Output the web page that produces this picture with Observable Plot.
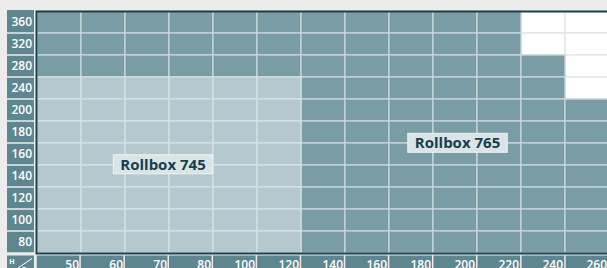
<!DOCTYPE html>
<html><head><meta charset="utf-8">
<script src="https://cdn.jsdelivr.net/npm/d3@7"></script>
<script src="https://cdn.jsdelivr.net/npm/@observablehq/plot@0.6"></script>
<style>
html,body{margin:0;padding:0;background:#ececec;overflow:hidden;}
svg{display:block}
</style></head><body><div id="chart"></div>
<script>
// Widths (x) and heights (y) — categories
const widths = ["50","60","70","80","100","120","140","160","180","200","220","240","260"];
const heights = ["360","320","280","240","200","180","160","140","120","100","80"];
// Rollbox 745 range
const rb745Widths = ["50","60","70","80","100","120"];
const rb745Heights = ["240","200","180","160","140","120","100","80"];
// Rollbox 765: max height for each width
const rb765MaxHeight = [360,360,360,360,360,360,360,360,360,360,360,280,200];
// Labels
const labelNames = ["Rollbox 745","Rollbox 765"];
const labelX = ["80","200"];
const labelY = ["160","180"];

const cells = [];
widths.forEach((w, i) => {
  heights.forEach(h => {
    let type = "none";
    if (rb745Widths.includes(w) && rb745Heights.includes(h)) type = "745";
    else if (+h <= rb765MaxHeight[i]) type = "765";
    cells.push({w, h, type});
  });
});
const labels = labelNames.map((name, i) => ({name, x: labelX[i], y: labelY[i]}));
const labelOffsets = [[-28.5, 10.5], [2, 11]];

const textStyle = {fontFamily: "'Open Sans', sans-serif", fontWeight: 700, fontSize: 15, fill: "#163f4c"};

const plot = Plot.plot({
  width: 607, height: 268,
  marginLeft: 36, marginTop: 11, marginBottom: 15, marginRight: -2,
  style: {background: "#ececec", fontFamily: "'Open Sans', sans-serif", overflow: "hidden"},
  x: {domain: widths, padding: 0},
  y: {domain: heights, padding: 0},
  marks: [
    Plot.cell(cells.filter(d => d.type === "none"), {x: "w", y: "h", fill: "#ffffff", stroke: "#dfe6e9", strokeWidth: 1.3}),
    Plot.cell(cells.filter(d => d.type === "765"), {x: "w", y: "h", fill: "#7a9ca5", stroke: "#c9d8dc", strokeWidth: 1.3}),
    Plot.cell(cells.filter(d => d.type === "745"), {x: "w", y: "h", fill: "#b4c8ce", stroke: "#d5e0e3", strokeWidth: 1.3}),
    Plot.frame({stroke: "#16434f", strokeWidth: 2}),
    Plot.axisX({tickSize: 0, tickPadding: 6.5, textAnchor: "end", dx: 19.5, fill: "white", fontWeight: 600, fontSize: 12}),
    Plot.axisY({tickSize: 0, tickPadding: 4.5, fill: "white", fontWeight: 600, fontSize: 12}),
    ...labels.map((l, i) => Plot.text([l], {x: "x", y: "y", text: "name", dx: labelOffsets[i][0], dy: labelOffsets[i][1], ...textStyle}))
  ]
});
document.getElementById("chart").append(plot);

const xs = plot.scale("x"), ys = plot.scale("y");
const xb = d3.scaleBand(xs.domain, xs.range);
const yb = d3.scaleBand(ys.domain, ys.range);
const svg = d3.select(plot);
const bg = svg.insert("g", "g");
const labelBg = "#5e8691";
// y label backgrounds
heights.forEach(h => {
  bg.append("rect").attr("x", 7).attr("width", 27)
    .attr("y", yb(h) + (h === heights[0] ? -1 : 0.75)).attr("height", yb.bandwidth() - (h === heights[0] ? -0.25 : 1.5))
    .attr("fill", labelBg);
});
// x label backgrounds
const yBottom = ys.range[1];
widths.forEach(w => {
  bg.append("rect").attr("x", xb(w) + 0.75).attr("width", xb.bandwidth() - 1.5)
    .attr("y", yBottom + 2.5).attr("height", 20).attr("fill", labelBg);
});
// corner
bg.append("rect").attr("x", 7).attr("width", 27).attr("y", yBottom + 2.5).attr("height", 20).attr("fill", labelBg);
const corner = svg.append("g");
corner.append("text").attr("x", 12).attr("y", yBottom + 10.5).attr("fill", "white")
  .attr("font-size", 7).attr("font-weight", 700).attr("font-family", "'Open Sans', sans-serif").text("H");
corner.append("line").attr("x1", 18).attr("y1", yBottom + 15).attr("x2", 32).attr("y2", yBottom + 5.5)
  .attr("stroke", "white").attr("stroke-width", 1);
corner.append("text").attr("x", 24).attr("y", yBottom + 19).attr("fill", "white")
  .attr("font-size", 7).attr("font-weight", 700).attr("font-family", "'Open Sans', sans-serif").text("B");

// label boxes
svg.selectAll('g[aria-label="text"] text').each(function() {
  const b = this.getBBox();
  const cy = b.y + b.height / 2 + 0.5;
  const r = document.createElementNS("http://www.w3.org/2000/svg", "rect");
  r.setAttribute("x", b.x - 7);
  r.setAttribute("width", b.width + 14);
  r.setAttribute("y", cy - 9.5);
  r.setAttribute("height", 19);
  r.setAttribute("fill", "#dae4e7");
  r.setAttribute("stroke", "#eef3f5");
  r.setAttribute("stroke-width", 1);
  const t = this.getAttribute("transform");
  if (t) r.setAttribute("transform", t);
  this.parentNode.insertBefore(r, this);
});
</script></body></html>
